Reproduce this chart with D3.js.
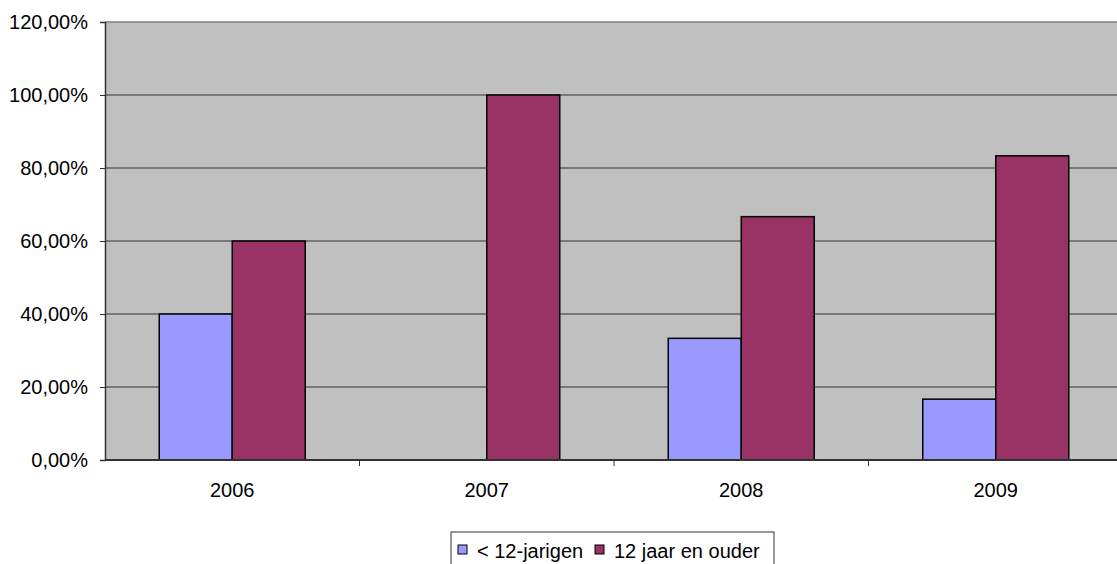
<!DOCTYPE html>
<html>
<head>
<meta charset="utf-8">
<script src="https://cdn.jsdelivr.net/npm/d3@7"></script>
<style>
  body { margin: 0; background: #fff; }
  text { font-family: "Liberation Sans", Arial, sans-serif; }
</style>
</head>
<body>
<script>
// data
var years = ["2006", "2007", "2008", "2009"];
var series = ["< 12-jarigen", "12 jaar en ouder"];
var under12 = [0.40, 0, 0.3333, 0.1667];
var over12 = [0.60, 1.00, 0.6667, 0.8333];
var colors = ["#9999ff", "#993366"];
var yTicks = [0, 0.2, 0.4, 0.6, 0.8, 1.0, 1.2];

var margin = {top: 22, bottom: 104, left: 105, right: 0};
var width = 1117 - margin.left - margin.right,
    height = 564 - margin.top - margin.bottom;

var svg = d3.select("body")
            .append("svg")
              .attr("width", 1117)
              .attr("height", 564);

var g = svg.append("g")
           .attr("transform", "translate(" + margin.left + "," + margin.top + ")");

// the category axis runs a bit past the picture's right edge
var x = d3.scaleBand().domain(years).range([0, 1018]);
var xs = d3.scaleBand().domain(series).range([-73, 73]);
var y = d3.scaleLinear().domain([0, 1.2]).range([height, 0]);

var fmt = function(d) { return d3.format(".2f")(d * 100).replace(".", ",") + "%"; };

// plot background
g.append("rect")
  .attr("width", width)
  .attr("height", height)
  .attr("fill", "#c0c0c0");

// gridlines
g.selectAll(".grid")
  .data(yTicks.slice(1))
  .enter()
  .append("line")
    .attr("x1", 0).attr("x2", width)
    .attr("y1", function(d) { return y(d); })
    .attr("y2", function(d) { return y(d); })
    .attr("stroke", function(d) { return d == 1.2 ? "#808080" : "#333"; })
    .attr("stroke-width", function(d) { return d == 1.2 ? 1.5 : 1; });

// bars
var rows = years.map(function(yr, i) {
  return [{s: series[0], v: under12[i], c: colors[0]}, {s: series[1], v: over12[i], c: colors[1]}];
});

var groups = g.selectAll(".grp")
  .data(rows)
  .enter()
  .append("g")
  .attr("transform", function(d, i) { return "translate(" + (x(years[i]) + x.bandwidth() / 2) + ",0)"; });

groups.selectAll("rect")
  .data(function(d) { return d.filter(function(b) { return b.v > 0; }); })
  .enter()
  .append("rect")
    .attr("x", function(d) { return xs(d.s); })
    .attr("width", xs.bandwidth())
    .attr("y", function(d) { return y(d.v); })
    .attr("height", function(d) { return height - y(d.v); })
    .attr("fill", function(d) { return d.c; })
    .attr("stroke", "#000")
    .attr("stroke-width", 1.5);

// y axis
var yAxis = g.append("g")
  .call(d3.axisLeft(y).tickValues(yTicks).tickFormat(fmt).tickSize(5).tickPadding(12));
yAxis.select(".domain").attr("stroke", "#333").attr("stroke-width", 1.5);
yAxis.selectAll(".tick line").attr("stroke", "#333");
yAxis.selectAll("text").attr("font-size", 20).attr("fill", "#000");

// x axis
var xAxis = g.append("g")
  .attr("transform", "translate(0," + height + ")");
xAxis.append("line")
  .attr("x1", 0).attr("x2", width)
  .attr("stroke", "#333").attr("stroke-width", 2);
xAxis.selectAll(".xt")
  .data(years.slice(1))
  .enter()
  .append("line")
    .attr("x1", function(d) { return x(d); })
    .attr("x2", function(d) { return x(d); })
    .attr("y1", 0).attr("y2", 6)
    .attr("stroke", "#333");
xAxis.selectAll(".xl")
  .data(years)
  .enter()
  .append("text")
    .attr("x", function(d) { return x(d) + x.bandwidth() / 2; })
    .attr("y", 37)
    .attr("text-anchor", "middle")
    .attr("font-size", 20)
    .text(function(d) { return d; });

// legend
var leg = svg.append("g").attr("transform", "translate(451,532)");
leg.append("rect")
  .attr("width", 323).attr("height", 40)
  .attr("fill", "#fff").attr("stroke", "#333");
var items = leg.selectAll(".li")
  .data(series)
  .enter()
  .append("g")
  .attr("transform", function(d, i) { return "translate(" + (i == 0 ? 7 : 144) + ",0)"; });
items.append("rect")
  .attr("y", 13).attr("width", 9).attr("height", 9)
  .attr("fill", function(d, i) { return colors[i]; })
  .attr("stroke", "#000");
items.append("text")
  .attr("x", 19).attr("y", 26)
  .attr("font-size", 20)
  .text(function(d) { return d; });
</script>
</body>
</html>
